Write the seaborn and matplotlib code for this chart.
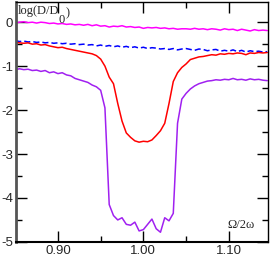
import numpy as np
import pandas as pd
import matplotlib
matplotlib.use("Agg")
import matplotlib.pyplot as plt
import seaborn as sns
from matplotlib.ticker import MultipleLocator

# frequency grid (Omega / 2 omega)
omega = [0.850, 0.855, 0.860, 0.865, 0.870, 0.875, 0.880, 0.885, 0.890, 0.895,
         0.900, 0.905, 0.910, 0.915, 0.920, 0.925, 0.930, 0.935, 0.940, 0.945,
         0.950, 0.955, 0.960, 0.965, 0.970, 0.975, 0.980, 0.985, 0.990, 0.995,
         1.000, 1.005, 1.010, 1.015, 1.020, 1.025, 1.030, 1.035, 1.040, 1.045,
         1.050, 1.055, 1.060, 1.065, 1.070, 1.075, 1.080, 1.085, 1.090, 1.095,
         1.100, 1.105, 1.110, 1.115, 1.120, 1.125, 1.130, 1.135, 1.140, 1.145]

magenta = [-0.02, 0.00, 0.01, -0.01, 0.00, -0.02, 0.00, -0.01, -0.03, -0.02,
           -0.04, -0.03, -0.05, -0.04, -0.06, -0.05, -0.07, -0.05, -0.08, -0.06,
           -0.09, -0.08, -0.11, -0.09, -0.10, -0.08, -0.11, -0.10, -0.12, -0.11,
           -0.14, -0.12, -0.13, -0.12, -0.14, -0.13, -0.15, -0.14, -0.16, -0.15,
           -0.15, -0.16, -0.14, -0.16, -0.15, -0.17, -0.15, -0.16, -0.18, -0.15,
           -0.17, -0.16, -0.19, -0.16, -0.18, -0.20, -0.17, -0.19, -0.18, -0.19]

blue = [-0.42, -0.44, -0.43, -0.45, -0.44, -0.46, -0.45, -0.47, -0.46, -0.48,
        -0.47, -0.49, -0.48, -0.50, -0.49, -0.51, -0.50, -0.52, -0.51, -0.54,
        -0.52, -0.55, -0.53, -0.56, -0.54, -0.57, -0.55, -0.58, -0.56, -0.59,
        -0.57, -0.60, -0.58, -0.59, -0.61, -0.60, -0.62, -0.60, -0.63, -0.61,
        -0.60, -0.62, -0.64, -0.61, -0.62, -0.65, -0.63, -0.62, -0.66, -0.64,
        -0.66, -0.63, -0.67, -0.64, -0.68, -0.65, -0.67, -0.66, -0.68, -0.67]

red = [-0.46, -0.47, -0.48, -0.47, -0.50, -0.49, -0.52, -0.51, -0.54, -0.56,
       -0.58, -0.57, -0.60, -0.62, -0.64, -0.66, -0.68, -0.70, -0.72, -0.76,
       -0.84, -1.00, -1.25, -1.40, -1.85, -2.25, -2.52, -2.62, -2.70, -2.73,
       -2.71, -2.72, -2.68, -2.58, -2.47, -2.30, -1.85, -1.35, -1.15, -1.03,
       -0.95, -0.85, -0.82, -0.79, -0.78, -0.76, -0.74, -0.75, -0.72, -0.73,
       -0.71, -0.72, -0.70, -0.71, -0.74, -0.70, -0.71, -0.69, -0.70, -0.69]

violet = [-1.08, -1.06, -1.08, -1.07, -1.10, -1.09, -1.12, -1.10, -1.15, -1.13,
          -1.17, -1.15, -1.20, -1.22, -1.28, -1.31, -1.34, -1.37, -1.43, -1.47,
          -1.55, -1.95, -4.15, -4.40, -4.50, -4.45, -4.60, -4.62, -4.55, -4.75,
          -4.72, -4.60, -4.48, -4.70, -4.78, -4.45, -4.52, -4.35, -2.30, -1.75,
          -1.62, -1.52, -1.45, -1.40, -1.37, -1.34, -1.33, -1.31, -1.32, -1.30,
          -1.31, -1.28, -1.31, -1.30, -1.32, -1.29, -1.31, -1.30, -1.32, -1.33]

sns.set_style("ticks")
plt.rcParams['font.family'] = ['Liberation Sans', 'DejaVu Sans']

fig = plt.figure(figsize=(2.73, 2.56), dpi=100)
ax = fig.add_axes([0.059, 0.055, 0.923, 0.939])

sns.lineplot(x=omega, y=magenta, color='#ff00ff', lw=1.1, ax=ax)
sns.lineplot(x=omega, y=blue, color='#0000ff', lw=1.1, ax=ax, linestyle=(0, (4, 2)))
sns.lineplot(x=omega, y=red, color='#ff0000', lw=1.1, ax=ax)
sns.lineplot(x=omega, y=violet, color='#a020f0', lw=1.1, ax=ax)

ax.set_xlim(0.851, 1.146)
ax.set_ylim(-5, 0.47)

ax.xaxis.set_minor_locator(MultipleLocator(0.05))
ax.yaxis.set_minor_locator(MultipleLocator(0.5))
ax.set_xticks([0.9, 1.0, 1.1])
ax.set_xticklabels(['0.90', '1.00', '1.10'])
ax.set_yticks([0, -1, -2, -3, -4, -5])
ax.set_yticklabels(['0', '-1', '-2', '-3', '-4', '-5'])

ax.tick_params(which='both', direction='in', top=True, right=True,
               labelsize=9.5, pad=2, color='black')
ax.tick_params(which='major', length=8, width=1)
ax.tick_params(which='minor', length=4, width=1)

for s in ax.spines.values():
    s.set_color('black')
    s.set_linewidth(1)
ax.spines['left'].set_color('#555555')
ax.spines['left'].set_linewidth(2)
ax.spines['bottom'].set_linewidth(1.5)

# y label written inside the frame, with a big dropped subscript
t1 = ax.text(0.006, 0.985, 'log(D/D', transform=ax.transAxes,
             ha='left', va='top', fontsize=9, family='Liberation Serif')
t2 = ax.annotate('0', xy=(1.0, 0.0), xycoords=t1, xytext=(-0.5, 2.5),
                 textcoords='offset points', ha='left', va='top',
                 fontsize=9, family='Liberation Serif')
ax.annotate(')', xy=(1.0, 1.0), xycoords=t2, xytext=(0.5, 4.5),
            textcoords='offset points', ha='left', va='top',
            fontsize=9, family='Liberation Serif')

ax.text(1.098, -4.62, 'Ω/2ω', family='Liberation Serif', fontsize=9,
        ha='left', va='center')

ax.set_xlabel('')
ax.set_ylabel('')

fig.savefig('out.png', dpi=100)
